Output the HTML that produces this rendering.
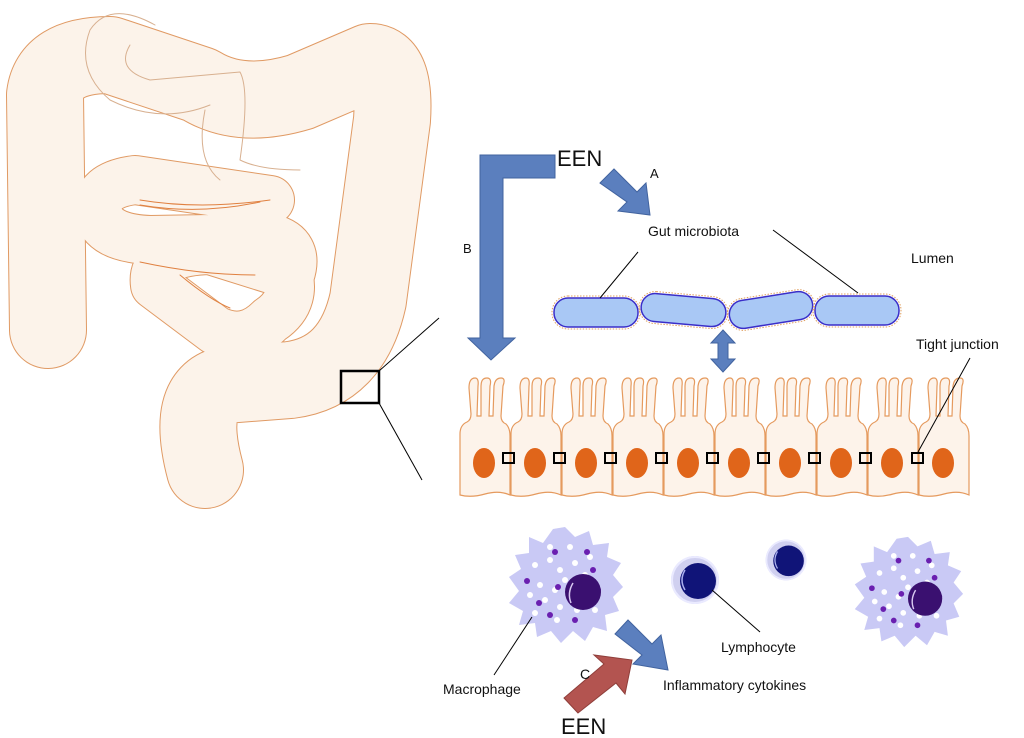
<!DOCTYPE html>
<html><head><meta charset="utf-8"><style>
html,body{margin:0;padding:0;background:#fff;}
svg{display:block;}
text{font-family:"Liberation Sans",sans-serif;fill:#111;}
</style></head><body>
<svg width="1024" height="738" viewBox="0 0 1024 738" xmlns="http://www.w3.org/2000/svg">
<defs>
<g id="mac">
<polygon points="0,-58 10,-48 24,-54 28,-40 44,-42 42,-28 56,-22 48,-10 58,2 48,12 54,26 40,30 42,46 28,42 20,56 8,46 -4,58 -14,46 -28,52 -30,38 -46,40 -42,26 -56,18 -46,6 -56,-8 -44,-16 -50,-30 -36,-32 -36,-48 -22,-42 -12,-56" fill="#c9c9f5"/>
<g fill="#fff">
<circle cx="-30" cy="-20" r="3"/><circle cx="-15" cy="-25" r="3"/><circle cx="-5" cy="-15" r="3"/><circle cx="10" cy="-22" r="3"/><circle cx="20" cy="-10" r="3"/><circle cx="-25" cy="0" r="3"/><circle cx="-10" cy="5" r="3"/><circle cx="0" cy="-5" r="3"/><circle cx="5" cy="10" r="3"/><circle cx="-20" cy="15" r="3"/><circle cx="-5" cy="22" r="3"/><circle cx="12" cy="25" r="3"/><circle cx="25" cy="-28" r="3"/><circle cx="-35" cy="10" r="3"/><circle cx="-15" cy="-38" r="3"/><circle cx="5" cy="-38" r="3"/><circle cx="30" cy="25" r="3"/><circle cx="-30" cy="28" r="3"/><circle cx="15" cy="-5" r="3"/><circle cx="-8" cy="35" r="3"/></g>
<g fill="#6a1fb0"><circle cx="-10" cy="-33" r="3"/><circle cx="22" cy="-33" r="3"/><circle cx="-38" cy="-4" r="3"/><circle cx="-7" cy="2" r="3"/><circle cx="-26" cy="18" r="3"/><circle cx="-15" cy="30" r="3"/><circle cx="10" cy="35" r="3"/><circle cx="33" cy="5" r="3"/><circle cx="28" cy="-15" r="3"/></g>
<circle cx="18" cy="7" r="18" fill="#3a1070"/>
<path d="M6 18 Q2 8 8 -2" stroke="#d8c8f0" stroke-width="1.5" fill="none"/>
</g>
<g id="lym">
<circle r="24" fill="#d0d0f0"/><circle r="23" fill="none" stroke="#eaeaff" stroke-width="2"/>
<circle cx="3" cy="1" r="18" fill="#101478"/>
<path d="M-10 10 Q-16 0 -10 -10" stroke="#aab0ee" stroke-width="1.5" fill="none"/>
</g>
<g id="cell">
<path d="M1 117 L1 56 Q1 47 8 44 Q12 42 12 36 L10 10 Q10 0 16 0 Q20 0 19 8 L18 38 L22 38 L22 8 Q22 0 28 0 Q33 0 31 8 L30 38 L34 38 L35 8 Q36 0 42 0 Q47 0 44 8 L42 38 Q42 44 47 46 Q51 50 51 58 L51 117 Q40 112 26 116 Q12 120 1 117 Z" fill="#fdf3ea" stroke="#e59a5e" stroke-width="1.2"/>
<ellipse cx="25" cy="85" rx="11" ry="15" fill="#e0651a"/>
</g>
</defs>

<!-- intestine -->
<g stroke-linecap="round" stroke-linejoin="round" fill="none">
<g stroke="#e09a64">
<path d="M48 330 L45 95 Q50 55 110 55 L200 85 Q240 110 300 92 L370 62 Q396 62 392 120 L368 300 Q352 372 290 380 L225 385 Q185 395 205 470" stroke-width="78"/>
<path d="M210 440 L205 488" stroke-width="30"/>
<path d="M270 200 L135 180 Q95 185 98 212 Q102 238 150 240 L270 238 Q300 245 290 275 L210 250 Q150 252 155 285 L215 330 Q245 345 270 320 Q300 300 285 265" stroke-width="50"/>
</g>
<g stroke="#fcf3ea">
<path d="M48 330 L45 95 Q50 55 110 55 L200 85 Q240 110 300 92 L370 62 Q396 62 392 120 L368 300 Q352 372 290 380 L225 385 Q185 395 205 470" stroke-width="76"/>
<path d="M210 440 L205 488" stroke-width="28"/>
<path d="M270 200 L135 180 Q95 185 98 212 Q102 238 150 240 L270 238 Q300 245 290 275 L210 250 Q150 252 155 285 L215 330 Q245 345 270 320 Q300 300 285 265" stroke-width="48"/>
</g>
<g stroke="#e08040" stroke-width="1">
<path d="M140 200 Q200 210 270 200"/><path d="M140 205 Q200 215 260 202"/>
<path d="M140 262 Q200 275 255 275"/><path d="M180 275 Q210 300 230 308"/>
</g>
<g stroke="#d8b090" stroke-width="1">
<path d="M155 25 Q110 0 90 30 Q75 70 110 100 Q160 125 210 105"/>
<path d="M130 45 Q115 70 150 80 L240 72 Q250 90 240 160 Q260 170 300 170"/>
<path d="M205 110 Q195 160 220 180"/>
</g>
</g>
<rect x="341" y="371" width="38" height="32" fill="none" stroke="#000" stroke-width="2.5"/>
<line x1="379" y1="371" x2="439" y2="318" stroke="#000" stroke-width="1"/>
<line x1="379" y1="403" x2="422" y2="480" stroke="#000" stroke-width="1"/>

<!-- epithelium -->
<g transform="translate(459,378)">
<use href="#cell" x="0"/><use href="#cell" x="51"/><use href="#cell" x="102"/><use href="#cell" x="153"/><use href="#cell" x="204"/><use href="#cell" x="255"/><use href="#cell" x="306"/><use href="#cell" x="357"/><use href="#cell" x="408"/><use href="#cell" x="459"/>
</g>
<g fill="none" stroke="#000" stroke-width="2">
<rect x="503" y="453" width="11" height="10"/><rect x="554" y="453" width="11" height="10"/><rect x="605" y="453" width="11" height="10"/><rect x="656" y="453" width="11" height="10"/><rect x="707" y="453" width="11" height="10"/><rect x="758" y="453" width="11" height="10"/><rect x="809" y="453" width="11" height="10"/><rect x="860" y="453" width="11" height="10"/><rect x="912" y="453" width="11" height="10"/>
</g>
<line x1="918" y1="452" x2="970" y2="358" stroke="#000" stroke-width="1"/>

<!-- bacteria -->
<g fill="#a9c8f5" stroke="#3a2ec8" stroke-width="1.5">
<rect x="554" y="298" width="84" height="29" rx="14"/>
<rect x="641" y="296" width="85" height="28" rx="14" transform="rotate(5 683 310)"/>
<rect x="729" y="296" width="84" height="28" rx="14" transform="rotate(-9 771 310)"/>
<rect x="815" y="296" width="84" height="29" rx="14"/>
</g>
<g fill="none" stroke="#e0a060" stroke-width="1" stroke-dasharray="1.5 1.5">
<rect x="552" y="296" width="88" height="33" rx="16"/>
<rect x="639" y="294" width="89" height="32" rx="16" transform="rotate(5 683 310)"/>
<rect x="727" y="294" width="88" height="32" rx="16" transform="rotate(-9 771 310)"/>
<rect x="813" y="294" width="88" height="33" rx="16"/>
</g>
<line x1="638" y1="252" x2="600" y2="298" stroke="#000" stroke-width="1"/>
<line x1="773" y1="230" x2="858" y2="293" stroke="#000" stroke-width="1"/>

<!-- arrows -->
<g fill="#5b7fbe" stroke="#41639f" stroke-width="1">
<path d="M555 155 L555 178 L503 178 L503 338 L515 338 L491 360 L468 338 L480 338 L480 155 Z"/>
<path d="M600 183 L614 169 L637 192 L646 183 L650 215 L618 211 L627 202 Z"/>
<path d="M723 330 L735 343 L728 343 L728 359 L735 359 L723 372 L711 359 L718 359 L718 343 L711 343 Z"/>
<path d="M615 634 L628 620 L652 644 L661 635 L668 670 L633 664 L642 655 Z"/>
</g>
<path d="M578 713 L564 698 L604 664 L594 655 L632 660 L625 694 L616 683 Z" fill="#b35450" stroke="#8f3e3a" stroke-width="1"/>

<!-- immune cells -->
<use href="#mac" x="565" y="585"/>
<use href="#mac" x="908" y="592" transform="translate(908 592) scale(0.95) translate(-908 -592)"/>
<use href="#lym" x="695" y="580"/>
<use href="#lym" x="786" y="560" transform="translate(786 560) scale(0.85) translate(-786 -560)"/>
<line x1="532" y1="617" x2="494" y2="675" stroke="#000" stroke-width="1"/>
<line x1="712" y1="590" x2="760" y2="632" stroke="#000" stroke-width="1"/>

<!-- labels -->
<text x="557" y="166" font-size="22">EEN</text>
<text x="650" y="178" font-size="13">A</text>
<text x="463" y="253" font-size="13">B</text>
<text x="648" y="236" font-size="14">Gut microbiota</text>
<text x="911" y="263" font-size="14">Lumen</text>
<text x="916" y="349" font-size="14">Tight junction</text>
<text x="721" y="652" font-size="14">Lymphocyte</text>
<text x="443" y="694" font-size="14">Macrophage</text>
<text x="580" y="679" font-size="14">C</text>
<text x="663" y="690" font-size="14">Inflammatory cytokines</text>
<text x="561" y="734" font-size="22">EEN</text>
</svg>
</body></html>
